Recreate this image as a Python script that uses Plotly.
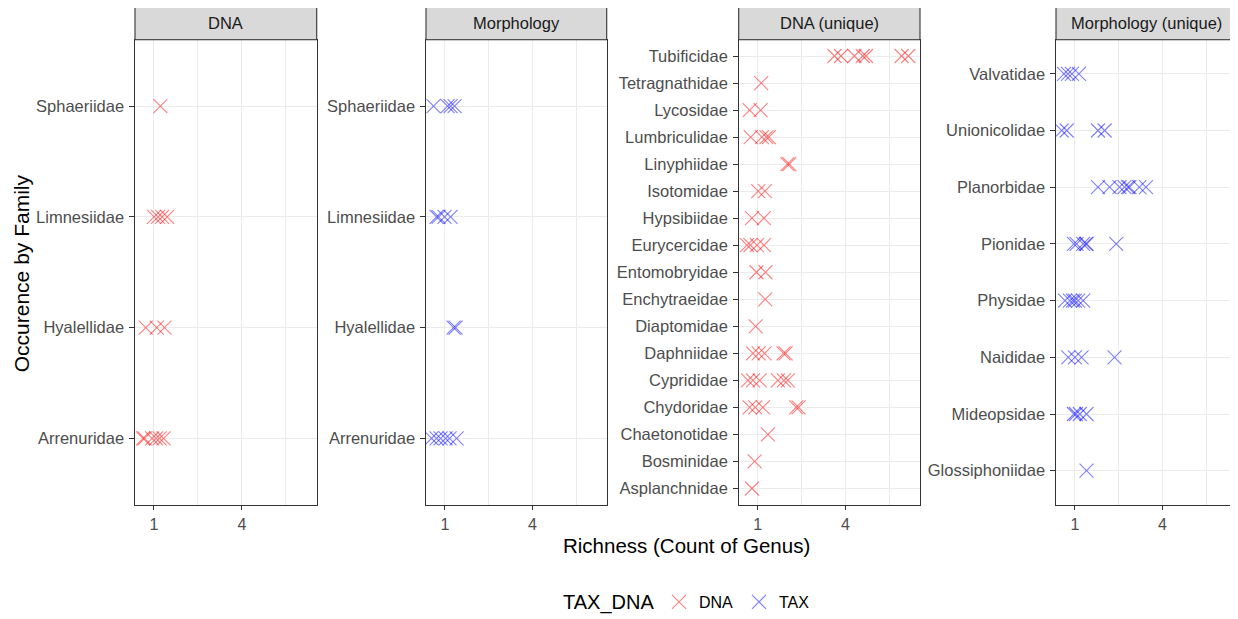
import numpy as np
import plotly.graph_objects as go

# ---------------- data (jittered richness values) ----------------
PANELS = ["DNA", "Morphology", "DNA (unique)", "Morphology (unique)"]
PANEL_GROUP = ["DNA", "TAX", "DNA", "TAX"]

DNA_FAMILIES = ["Arrenuridae", "Hyalellidae", "Limnesiidae", "Sphaeriidae"]
DNA_VALUES = [
    [0.767, 0.797, 0.957, 1.048, 1.132, 1.231],
    [0.822, 1.065, 1.251],
    [1.002, 1.096, 1.193, 1.321],
    [1.151],
]

MORPH_FAMILIES = ["Arrenuridae", "Hyalellidae", "Limnesiidae", "Sphaeriidae"]
MORPH_VALUES = [
    [0.719, 0.819, 0.904, 1.016, 1.110, 1.286],
    [1.209, 1.260],
    [0.819, 0.861, 0.993, 1.135],
    [0.758, 1.063, 1.135, 1.234],
]

DNA_U_FAMILIES = ["Asplanchnidae", "Bosminidae", "Chaetonotidae", "Chydoridae",
                  "Cyprididae", "Daphniidae", "Diaptomidae", "Enchytraeidae",
                  "Entomobryidae", "Eurycercidae", "Hypsibiidae", "Isotomidae",
                  "Linyphiidae", "Lumbriculidae", "Lycosidae", "Tetragnathidae",
                  "Tubificidae"]
DNA_U_VALUES = [
    [0.875],
    [0.933],
    [1.248],
    [0.826, 0.946, 1.124, 2.070, 2.149],
    [0.792, 0.896, 1.046, 1.515, 1.687, 1.807],
    [0.896, 1.023, 1.165, 1.678, 1.738],
    [0.955],
    [1.180],
    [0.973, 1.185],
    [0.772, 0.843, 0.984, 1.148],
    [0.875, 1.148],
    [1.014, 1.173],
    [1.792, 1.853],
    [0.847, 1.100, 1.210, 1.273],
    [0.826, 1.069],
    [1.083],
    [3.516, 3.800, 4.418, 4.828, 4.991, 6.971, 7.377],
]

MORPH_U_FAMILIES = ["Glossiphoniidae", "Mideopsidae", "Naididae", "Physidae",
                    "Pionidae", "Planorbidae", "Unionicolidae", "Valvatidae"]
MORPH_U_VALUES = [
    [1.283],
    [0.978, 1.023, 1.116, 1.283],
    [0.854, 1.000, 1.158, 2.111],
    [0.786, 0.890, 0.955, 1.000, 1.076, 1.197],
    [0.978, 1.039, 1.197, 1.265, 1.290, 2.167],
    [1.597, 1.950, 2.279, 2.453, 2.579, 2.634, 3.014, 3.283],
    [0.721, 0.821, 1.597, 1.795],
    [0.766, 0.848, 0.933, 1.093],
]

X_TICKS = [1, 4]
X_MINOR = [2.25, 6.25]
X_LIMITS = [0.615, 8.12]

FAMILIES = [DNA_FAMILIES, MORPH_FAMILIES, DNA_U_FAMILIES, MORPH_U_FAMILIES]
VALUES = [DNA_VALUES, MORPH_VALUES, DNA_U_VALUES, MORPH_U_VALUES]

# ---------------- styling / layout ----------------
PAGE_OFF = 8                 # browser body margin
W, H = 1238 - PAGE_OFF, 619 - PAGE_OFF
COLORS = {"DNA": "rgba(255,0,0,0.5)", "TAX": "rgba(0,0,255,0.5)"}
PANEL_PX = [(135, 316.7), (426, 606.7), (738.7, 920), (1056, 1236.8)]
PLOT_TOP, PLOT_BOT = 40, 508
STRIP_TOP = 7
FONT = "Liberation Sans, Arial, sans-serif"

def px_x(v):
    return (v - PAGE_OFF) / W

def px_y(v):
    return 1 - (v - PAGE_OFF) / H

fig = go.Figure()
shown = set()
shapes = []
annotations = []

for i, (title, grp, fams, vals) in enumerate(zip(PANELS, PANEL_GROUP, FAMILIES, VALUES)):
    ax = "" if i == 0 else str(i + 1)
    xs, ys = [], []
    for fam, vlist in zip(fams, vals):
        for v in vlist:
            xs.append(np.sqrt(v))
            ys.append(fam)
    fig.add_trace(go.Scatter(
        x=xs, y=ys, mode="markers", xaxis="x" + ax, yaxis="y" + ax,
        name=grp, legendgroup=grp, showlegend=grp not in shown,
        marker=dict(symbol="x-thin", size=14, color=COLORS[grp],
                    line=dict(color=COLORS[grp], width=1.1)),
        hovertemplate="%{y}: %{customdata:.2f}<extra></extra>",
        customdata=[x ** 2 for x in xs],
    ))
    shown.add(grp)

    x0, x1 = PANEL_PX[i]
    common_x = dict(
        domain=[px_x(x0), px_x(x1)], anchor="y" + ax,
        range=[np.sqrt(X_LIMITS[0]), np.sqrt(X_LIMITS[1])],
        tickmode="array", tickvals=[np.sqrt(t) for t in X_TICKS],
        ticktext=[str(t) for t in X_TICKS],
        showgrid=True, gridcolor="#EBEBEB", gridwidth=1.1,
        minor=dict(tickmode="array", tickvals=[np.sqrt(t) for t in X_MINOR],
                   showgrid=True, gridcolor="#EBEBEB", gridwidth=0.55, ticklen=0),
        ticks="outside", ticklen=4.5, tickwidth=1.1, tickcolor="#333333",
        ticklabelstandoff=1,
        tickfont=dict(family=FONT, size=16, color="#4D4D4D"),
        showline=True, mirror=True, linecolor="#333333", linewidth=1.1,
        zeroline=False, fixedrange=True,
    )
    n = len(fams)
    common_y = dict(
        domain=[px_y(PLOT_BOT), px_y(PLOT_TOP)], anchor="x" + ax,
        type="category", categoryorder="array", categoryarray=fams,
        range=[-0.6, n - 1 + 0.6],
        showgrid=True, gridcolor="#EBEBEB", gridwidth=1.1,
        ticks="outside", ticklen=4.5, tickwidth=1.1, tickcolor="#333333",
        ticklabelstandoff=2,
        tickfont=dict(family=FONT, size=16.5, color="#4D4D4D"),
        showline=True, mirror=True, linecolor="#333333", linewidth=1.1,
        zeroline=False, fixedrange=True,
    )
    fig.update_layout(**{"xaxis" + ax: common_x, "yaxis" + ax: common_y})

    # strip
    shapes.append(dict(type="rect", xref="paper", yref="paper",
                       x0=px_x(x0), x1=px_x(x1), y0=px_y(PLOT_TOP), y1=px_y(STRIP_TOP),
                       fillcolor="#D9D9D9", line=dict(color="#333333", width=1.1),
                       layer="above"))
    annotations.append(dict(text=title, xref="paper", yref="paper",
                            x=px_x((x0 + x1) / 2), y=px_y((STRIP_TOP + PLOT_TOP) / 2),
                            xanchor="center", yanchor="middle", showarrow=False,
                            font=dict(family=FONT, size=16.5, color="#1A1A1A")))

annotations.append(dict(text="Richness (Count of Genus)", xref="paper", yref="paper",
                        x=px_x(686), y=px_y(549), xanchor="center", yanchor="middle",
                        showarrow=False, font=dict(family=FONT, size=20.5, color="black")))
annotations.append(dict(text="Occurence by Family", xref="paper", yref="paper",
                        x=px_x(21), y=px_y(275), xanchor="center", yanchor="middle",
                        textangle=-90, showarrow=False,
                        font=dict(family=FONT, size=21, color="black")))
# legend title
annotations.append(dict(text="TAX_DNA", xref="paper", yref="paper",
                        x=px_x(608.5), y=px_y(606), xanchor="center", yanchor="middle",
                        showarrow=False, font=dict(family=FONT, size=20, color="black")))

fig.update_layout(
    width=W, height=H, margin=dict(l=0, r=0, t=0, b=0),
    paper_bgcolor="white", plot_bgcolor="white",
    shapes=shapes, annotations=annotations,
    showlegend=True,
    legend=dict(orientation="h", x=px_x(659), xanchor="left",
                y=px_y(606), yanchor="middle",
                font=dict(family=FONT, size=16, color="black"),
                entrywidth=35, entrywidthmode="pixels",
                itemwidth=30, bgcolor="rgba(0,0,0,0)"),
)

fig.write_html("out.html")
